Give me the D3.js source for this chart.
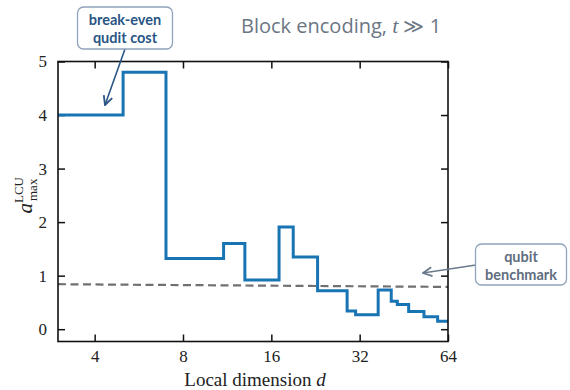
<!DOCTYPE html>
<html>
<head>
<meta charset="utf-8">
<script src="https://cdn.jsdelivr.net/npm/d3@7"></script>
<style>
  body { margin: 0; background: #fff; }
  .axis text { font-family: "Liberation Serif", serif; font-size: 17px; fill: #222; }
  .axis line { stroke: #111; stroke-width: 1.5; }
</style>
</head>
<body>
<div id="chart-area"></div>
<script>
const canvas_width = 570;
const canvas_height = 390;

// step values at each local dimension d
const dims = [3, 5, 7, 11, 13, 17, 19, 23, 29, 31, 37, 41, 43, 47, 53, 59];
const aMax = [4.0, 4.8, 1.32, 1.6, 0.92, 1.91, 1.35, 0.72, 0.34, 0.27, 0.73, 0.52, 0.46, 0.33, 0.23, 0.15];
const dEnd = 64;

// qubit benchmark line
const benchDims = [3, 64];
const benchVals = [0.84, 0.79];

const xTicks = [4, 8, 16, 32, 64];
const yTicks = [0, 1, 2, 3, 4, 5];

const plot = { left: 58, right: 448, top: 61.5, bottom: 341.5 };

let svg = d3.select('#chart-area').append('svg')
    .attr('width', canvas_width)
    .attr('height', canvas_height);

let x = d3.scaleLog().base(2)
    .domain([3, 64])
    .range([plot.left, plot.right]);

let y = d3.scaleLinear()
    .domain([-0.23, 5])
    .range([plot.bottom, plot.top]);

// axes, ticks pointing inward
svg.append('g').attr('class', 'axis')
    .attr('transform', `translate(0, ${plot.bottom})`)
    .call(d3.axisBottom(x).tickValues(xTicks).tickFormat(d3.format('d'))
        .tickSizeInner(-7).tickSizeOuter(0).tickPadding(8))
    .call(g => g.select('.domain').remove());

svg.append('g').attr('class', 'axis')
    .attr('transform', `translate(0, ${plot.top})`)
    .call(d3.axisTop(x).tickValues(xTicks).tickFormat('')
        .tickSizeInner(-7).tickSizeOuter(0))
    .call(g => g.select('.domain').remove());

svg.append('g').attr('class', 'axis')
    .attr('transform', `translate(${plot.left}, 0)`)
    .call(d3.axisLeft(y).tickValues(yTicks).tickFormat(d3.format('d'))
        .tickSizeInner(-7).tickSizeOuter(0).tickPadding(11))
    .call(g => g.select('.domain').remove());

svg.append('g').attr('class', 'axis')
    .attr('transform', `translate(${plot.right}, 0)`)
    .call(d3.axisRight(y).tickValues(yTicks).tickFormat('')
        .tickSizeInner(-7).tickSizeOuter(0))
    .call(g => g.select('.domain').remove());

// clip for the lines
svg.append('clipPath').attr('id', 'clip')
    .append('rect')
    .attr('x', plot.left).attr('y', plot.top)
    .attr('width', plot.right - plot.left)
    .attr('height', plot.bottom - plot.top);

// benchmark dashed line
let bench = benchDims.map((d, i) => [d, benchVals[i]]);
svg.append('path')
    .datum(bench)
    .attr('clip-path', 'url(#clip)')
    .attr('fill', 'none')
    .attr('stroke', '#707070')
    .attr('stroke-width', 2.2)
    .attr('stroke-dasharray', '8,4.5')
    .attr('d', d3.line().x(d => x(d[0])).y(d => y(d[1])));

// step line
let steps = dims.map((d, i) => [d, aMax[i]]);
steps.push([dEnd, aMax[aMax.length - 1]]);

svg.append('path')
    .datum(steps)
    .attr('clip-path', 'url(#clip)')
    .attr('fill', 'none')
    .attr('stroke', '#1874b3')
    .attr('stroke-width', 3)
    .attr('stroke-linejoin', 'miter')
    .attr('d', d3.line().curve(d3.curveStepAfter).x(d => x(d[0])).y(d => y(d[1])));

// frame
svg.append('rect')
    .attr('x', plot.left).attr('y', plot.top)
    .attr('width', plot.right - plot.left)
    .attr('height', plot.bottom - plot.top)
    .attr('fill', 'none')
    .attr('stroke', '#111')
    .attr('stroke-width', 1.6);

// axis labels
svg.append('text')
    .attr('x', (plot.left + plot.right) / 2 + 2)
    .attr('y', 386)
    .attr('text-anchor', 'middle')
    .attr('font-family', '"Liberation Serif", serif')
    .attr('font-size', '19px')
    .attr('fill', '#222')
    .text('Local dimension ')
    .append('tspan').attr('font-style', 'italic').text('d');

let yl = svg.append('text')
    .attr('transform', `translate(32, ${(plot.top + plot.bottom) / 2 + 12}) rotate(-90)`)
    .attr('text-anchor', 'start')
    .attr('font-family', '"Liberation Serif", serif')
    .attr('font-size', '21px')
    .attr('fill', '#222');
yl.append('tspan').attr('font-style', 'italic').text('a');
yl.append('tspan').attr('font-size', '13px').attr('dy', -9).text('LCU');
yl.append('tspan').attr('font-size', '13px').attr('dx', -24).attr('dy', 14).text('max');

// title
let title = svg.append('text')
    .attr('x', 241)
    .attr('y', 33)
    .attr('font-family', '"Open Sans", sans-serif')
    .attr('font-size', '20px')
    .attr('fill', '#6b7684')
    .text('Block encoding, ');
title.append('tspan').attr('font-family', '"Liberation Serif", serif').attr('font-style', 'italic').attr('font-size', '22px').text('t');
title.append('tspan').text(' \u226B 1');

// annotations
svg.append('defs').selectAll('marker')
    .data([['arrDark', '#2a5685'], ['arrGrey', '#6b7a8c']])
    .enter().append('marker')
    .attr('id', d => d[0])
    .attr('viewBox', '0 0 10 10')
    .attr('refX', 9).attr('refY', 5)
    .attr('markerWidth', 7).attr('markerHeight', 7)
    .attr('orient', 'auto')
    .append('path')
    .attr('d', 'M1,1 L9,5 L1,9')
    .attr('fill', 'none')
    .attr('stroke', d => d[1])
    .attr('stroke-width', 1.6);

svg.append('line')
    .attr('x1', 125).attr('y1', 49).attr('x2', 105).attr('y2', 105)
    .attr('stroke', '#2a5685').attr('stroke-width', 1.6)
    .attr('marker-end', 'url(#arrDark)');

svg.append('line')
    .attr('x1', 476).attr('y1', 265).attr('x2', 423).attr('y2', 273)
    .attr('stroke', '#6b7a8c').attr('stroke-width', 1.6)
    .attr('marker-end', 'url(#arrGrey)');

function box(cx, top, w, h, lines, color) {
    svg.append('rect')
        .attr('x', cx - w / 2).attr('y', top)
        .attr('width', w).attr('height', h)
        .attr('rx', 6).attr('ry', 6)
        .attr('fill', '#fff')
        .attr('stroke', '#8fa3bb')
        .attr('stroke-width', 1.3);
    lines.forEach((t, i) => {
        svg.append('text')
            .attr('x', cx).attr('y', top + 18 + i * 18)
            .attr('text-anchor', 'middle')
            .attr('font-family', 'Lato, sans-serif')
            .attr('font-weight', 'bold')
            .attr('font-size', '14.5px')
            .attr('fill', color)
            .text(t);
    });
}

box(125, 7, 95, 42, ['break-even', 'qudit cost'], '#2a5685');
box(521, 244, 91, 41, ['qubit', 'benchmark'], '#5f6e80');
</script>
</body>
</html>
